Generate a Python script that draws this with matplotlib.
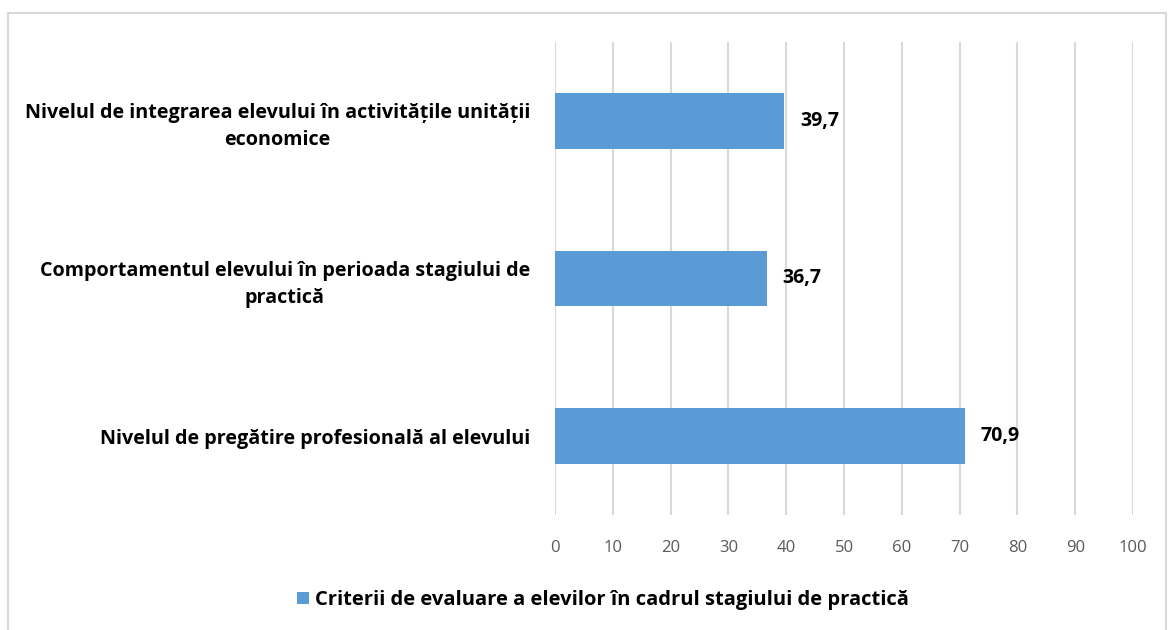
import matplotlib
matplotlib.use("Agg")
import matplotlib.pyplot as plt
from matplotlib.patches import Rectangle

# date
categorii = [
    "Nivelul de pregătire profesională al elevului",
    "Comportamentul elevului în perioada stagiului de\npractică",
    "Nivelul de integrarea elevului în activitățile unității\neconomice",
]
valori = [70.9, 36.7, 39.7]
serie = "Criterii de evaluare a elevilor în cadrul stagiului de practică"
ticks_x = list(range(0, 101, 10))

plt.rcParams['font.family'] = ['Open Sans', 'DejaVu Sans']

fig = plt.figure(figsize=(11.7, 6.3), dpi=100)
ax = fig.add_axes([555 / 1170, 1 - 515 / 630, 578 / 1170, 473 / 630])

# chenar in jurul graficului
fig.patches.append(Rectangle((8 / 1170, -0.01), 1158 / 1170, 1 - 13 / 630 + 0.01,
                             transform=fig.transFigure, fill=False,
                             edgecolor='#D9D9D9', linewidth=1.5))

y = range(len(categorii))
bare = ax.barh(y, valori, height=0.355, color='#5B9BD5', label=serie, zorder=3)

for b, v in zip(bare, valori):
    ax.text(b.get_width() + 2.7, b.get_y() + b.get_height() / 2,
            f"{v:.1f}".replace('.', ','), va='center', ha='left',
            fontsize=14, fontweight='bold', color='black')

ax.set_xlim(0, 100)
ax.set_ylim(-0.5, len(categorii) - 0.5)
ax.set_xticks(ticks_x)
ax.set_yticks(list(y))
ax.set_yticklabels(categorii, fontsize=14.2, fontweight='bold', ha='right',
                   multialignment='center', linespacing=1.45)
ax.tick_params(axis='y', length=0, pad=18)
ax.tick_params(axis='x', length=0, pad=18, labelsize=12, labelcolor='#595959')
ax.grid(axis='x', color='#D9D9D9', linewidth=1.5, zorder=0)
for s in ax.spines.values():
    s.set_visible(False)

leg = fig.legend(handles=[bare], labels=[serie], loc='center',
                 bbox_to_anchor=(603 / 1170, 1 - 600 / 630), frameon=False,
                 handlelength=0.6, handleheight=0.6, handletextpad=0.3,
                 prop={'size': 14.5, 'weight': 'bold'})

fig.savefig('out.png', dpi=100)
